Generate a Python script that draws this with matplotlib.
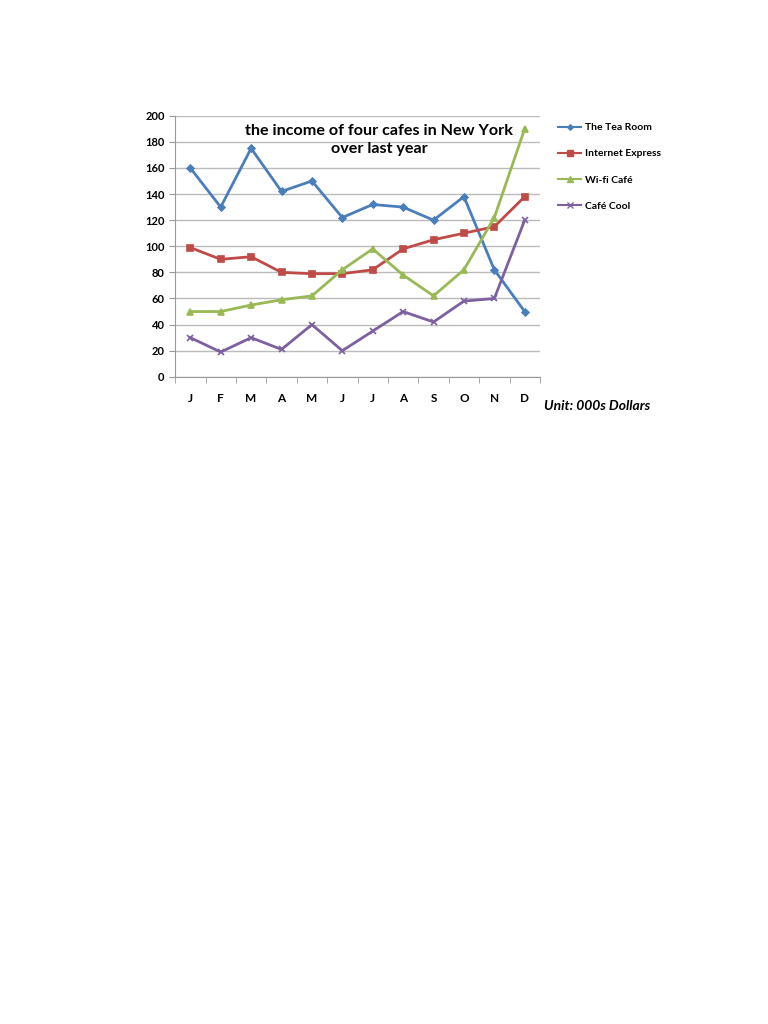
import matplotlib.pyplot as plt
from matplotlib.lines import Line2D

months = ["J", "F", "M", "A", "M", "J", "J", "A", "S", "O", "N", "D"]
tea_room = [160, 130, 175, 142, 150, 122, 132, 130, 120, 138, 82, 50]
internet_express = [99, 90, 92, 80, 79, 79, 82, 98, 105, 110, 115, 138]
wifi_cafe = [50, 50, 55, 59, 62, 82, 98, 78, 62, 82, 122, 190]
cafe_cool = [30, 19, 30, 21, 40, 20, 35, 50, 42, 58, 60, 120]

series = [
    ("The Tea Room", tea_room, "#4A7EBB", "D", 3.5),
    ("Internet Express", internet_express, "#BE4B48", "s", 5),
    ("Wi-fi Café", wifi_cafe, "#98B954", "^", 5),
    ("Café Cool", cafe_cool, "#7D60A0", "x", 5),
]

plt.rcParams['font.family'] = ['Lato', 'DejaVu Sans']

fig = plt.figure(figsize=(7.68, 10.24), dpi=100)
ax = fig.add_axes([0.228, 0.632, 0.475, 0.255])

x = list(range(len(months)))
for name, vals, color, marker, ms in series:
    ax.plot(x, vals, color=color, linewidth=2, marker=marker,
            markersize=ms, markeredgewidth=1.2, label=name)

ax.set_xlim(-0.5, 11.5)
ax.set_ylim(0, 200)
ax.set_yticks(range(0, 201, 20))
ax.set_xticks(x)
ax.set_xticklabels(months, fontsize=8.5, fontweight='bold')
ax.set_xticks([i + 0.5 for i in range(-1, 12)], minor=True)
ax.tick_params(axis='x', which='major', length=0, pad=12)
ax.tick_params(axis='x', which='minor', length=4, color='#999999')
ax.tick_params(axis='y', labelsize=8, length=4, color='#999999')
for lbl in ax.get_yticklabels():
    lbl.set_fontweight('bold')
ax.grid(axis='y', color='#BBBBBB', linewidth=1)
ax.set_axisbelow(True)
for side in ['top', 'right']:
    ax.spines[side].set_visible(False)
for side in ['left', 'bottom']:
    ax.spines[side].set_color('#999999')

ax.text(0.56, 0.97, "the income of four cafes in New York\nover last year",
        transform=ax.transAxes, ha='center', va='top', fontsize=11.6,
        fontweight='bold', linespacing=1.45)

handles = [Line2D([0], [0], color=c, marker=m, markersize=s * 0.8, linewidth=1.5)
           for _, _, c, m, s in series]
fig.legend(handles, [s[0] for s in series], loc='upper left',
           bbox_to_anchor=(0.715, 0.889), frameon=False,
           labelspacing=1.62, handlelength=2.2, handletextpad=0.3,
           prop={'weight': 'bold', 'size': 7.5})

fig.text(0.708, 0.604, "Unit: 000s Dollars", fontsize=10, fontweight='bold',
         fontstyle='italic', ha='left', va='center')

fig.savefig("out.png", dpi=100)
